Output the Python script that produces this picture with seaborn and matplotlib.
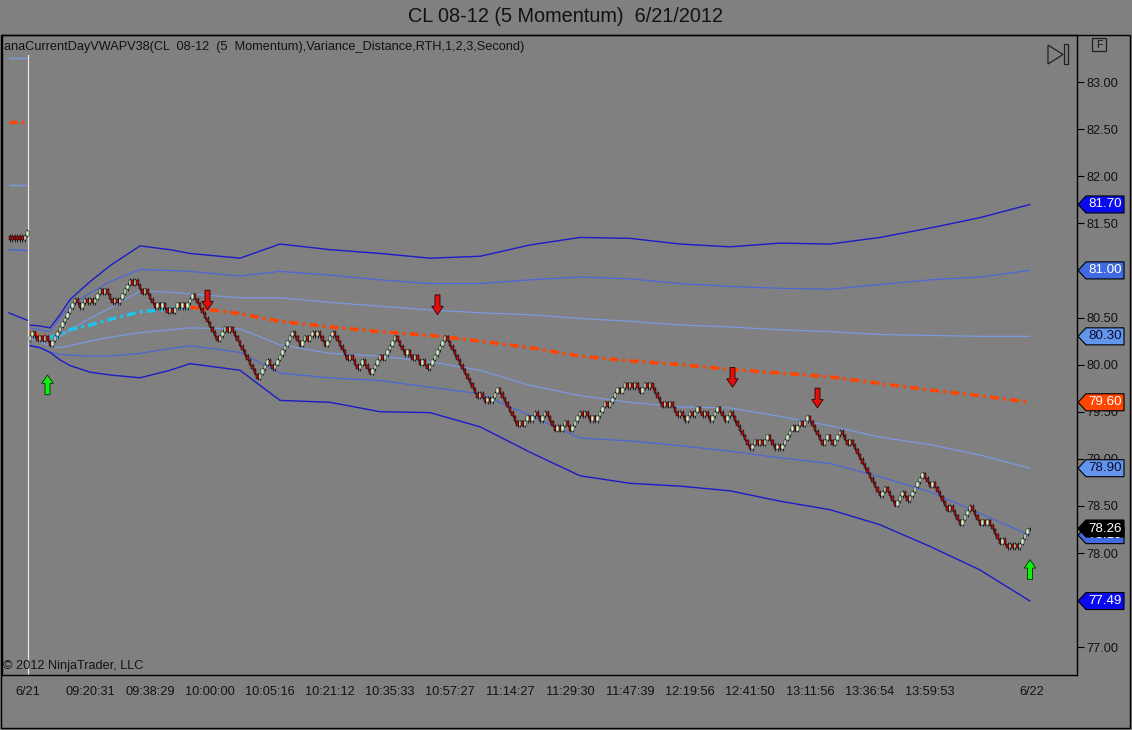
import numpy as np
import pandas as pd
import matplotlib
matplotlib.use("Agg")
import matplotlib.pyplot as plt
import seaborn as sns
from matplotlib.patches import Polygon, Rectangle, FancyArrow

# ---------------- data ----------------
title = "CL 08-12 (5 Momentum)  6/21/2012"
indicator_label = "anaCurrentDayVWAPV38(CL  08-12  (5  Momentum),Variance_Distance,RTH,1,2,3,Second)"
copyright_text = "\u00a9 2012 NinjaTrader, LLC"

# momentum bar closes (bar index 0..400), session of 6/21
closes = [
    80.30, 80.35, 80.30, 80.25, 80.30, 80.25, 80.30, 80.25, 80.20, 80.25,
    80.30, 80.35, 80.40, 80.45, 80.50, 80.55, 80.60, 80.65, 80.70, 80.65,
    80.60, 80.65, 80.70, 80.65, 80.70, 80.65, 80.70, 80.75, 80.80, 80.75,
    80.80, 80.75, 80.70, 80.65, 80.70, 80.65, 80.70, 80.75, 80.80, 80.85,
    80.90, 80.85, 80.90, 80.85, 80.80, 80.75, 80.80, 80.75, 80.70, 80.65,
    80.60, 80.65, 80.60, 80.65, 80.60, 80.55, 80.60, 80.55, 80.60, 80.65,
    80.60, 80.65, 80.60, 80.65, 80.70, 80.75, 80.70, 80.65, 80.60, 80.55,
    80.50, 80.45, 80.40, 80.35, 80.30, 80.25, 80.30, 80.35, 80.40, 80.35,
    80.40, 80.35, 80.30, 80.25, 80.20, 80.15, 80.10, 80.05, 80.00, 79.95,
    79.90, 79.85, 79.90, 79.95, 80.00, 80.05, 80.00, 79.95, 80.00, 80.05,
    80.10, 80.15, 80.20, 80.25, 80.30, 80.35, 80.30, 80.25, 80.20, 80.25,
    80.30, 80.25, 80.30, 80.35, 80.30, 80.35, 80.30, 80.25, 80.20, 80.25,
    80.30, 80.35, 80.30, 80.25, 80.20, 80.15, 80.10, 80.05, 80.10, 80.05,
    80.00, 79.95, 80.00, 80.05, 80.00, 79.95, 79.90, 79.95, 80.00, 80.05,
    80.10, 80.05, 80.10, 80.15, 80.20, 80.25, 80.30, 80.25, 80.20, 80.15,
    80.10, 80.15, 80.10, 80.05, 80.10, 80.05, 80.00, 80.05, 80.00, 79.95,
    80.00, 80.05, 80.10, 80.15, 80.20, 80.25, 80.30, 80.25, 80.20, 80.15,
    80.10, 80.05, 80.00, 79.95, 79.90, 79.85, 79.80, 79.75, 79.70, 79.65,
    79.70, 79.65, 79.60, 79.65, 79.60, 79.65, 79.70, 79.75, 79.70, 79.65,
    79.60, 79.55, 79.50, 79.45, 79.40, 79.35, 79.40, 79.35, 79.40, 79.45,
    79.40, 79.45, 79.50, 79.45, 79.40, 79.45, 79.50, 79.45, 79.40, 79.35,
    79.30, 79.35, 79.30, 79.35, 79.40, 79.35, 79.30, 79.35, 79.40, 79.45,
    79.50, 79.45, 79.50, 79.45, 79.40, 79.45, 79.40, 79.45, 79.50, 79.55,
    79.60, 79.55, 79.60, 79.65, 79.70, 79.75, 79.70, 79.75, 79.80, 79.75,
    79.80, 79.75, 79.80, 79.75, 79.70, 79.75, 79.80, 79.75, 79.80, 79.75,
    79.70, 79.65, 79.60, 79.55, 79.60, 79.55, 79.60, 79.55, 79.50, 79.45,
    79.50, 79.45, 79.40, 79.45, 79.50, 79.45, 79.50, 79.55, 79.50, 79.45,
    79.50, 79.45, 79.40, 79.45, 79.50, 79.55, 79.50, 79.45, 79.40, 79.45,
    79.50, 79.45, 79.40, 79.35, 79.30, 79.25, 79.20, 79.15, 79.10, 79.15,
    79.20, 79.15, 79.20, 79.15, 79.20, 79.25, 79.20, 79.15, 79.10, 79.15,
    79.10, 79.15, 79.20, 79.25, 79.30, 79.35, 79.30, 79.35, 79.40, 79.35,
    79.40, 79.45, 79.40, 79.35, 79.30, 79.25, 79.20, 79.15, 79.20, 79.25,
    79.20, 79.15, 79.20, 79.25, 79.30, 79.25, 79.20, 79.15, 79.20, 79.15,
    79.10, 79.05, 79.00, 78.95, 78.90, 78.85, 78.80, 78.75, 78.70, 78.65,
    78.60, 78.65, 78.70, 78.65, 78.60, 78.55, 78.50, 78.55, 78.60, 78.65,
    78.60, 78.55, 78.60, 78.65, 78.70, 78.75, 78.80, 78.85, 78.80, 78.75,
    78.70, 78.75, 78.70, 78.65, 78.60, 78.55, 78.50, 78.45, 78.50, 78.45,
    78.40, 78.35, 78.30, 78.35, 78.40, 78.45, 78.50, 78.45, 78.40, 78.35,
    78.30, 78.35, 78.30, 78.35, 78.30, 78.25, 78.20, 78.15, 78.10, 78.15,
    78.10, 78.05, 78.10, 78.05, 78.10, 78.05, 78.10, 78.15, 78.20, 78.25,
    78.26,
]
first_open = 80.25

# previous session bars (6/20)
prev_idx = [-8, -7, -6, -5, -4, -3, -2, -1]
prev_open = [81.37, 81.37, 81.37, 81.37, 81.37, 81.37, 81.32, 81.37]
prev_close = [81.32, 81.32, 81.32, 81.32, 81.32, 81.32, 81.37, 81.42]

# VWAP and variance bands, sampled at bar indices
band_idx = [0, 4, 8, 12, 16, 24, 32, 44, 56, 64, 84, 100, 120, 140, 160,
            180, 200, 220, 240, 260, 280, 300, 320, 340, 360, 380, 400]
sd3_up = [80.42, 80.41, 80.39, 80.53, 80.69, 80.88, 81.05, 81.26, 81.22, 81.18,
          81.13, 81.28, 81.22, 81.18, 81.13, 81.15, 81.27, 81.35, 81.34, 81.28,
          81.25, 81.29, 81.28, 81.35, 81.45, 81.56, 81.70]
sd2_up = [80.39, 80.37, 80.35, 80.49, 80.63, 80.76, 80.88, 81.01, 81.00, 80.99,
          80.94, 80.99, 80.95, 80.90, 80.86, 80.86, 80.90, 80.93, 80.91, 80.86,
          80.83, 80.81, 80.80, 80.85, 80.90, 80.93, 81.00]
sd1_up = [80.31, 80.28, 80.25, 80.30, 80.37, 80.49, 80.60, 80.78, 80.77, 80.75,
          80.71, 80.71, 80.66, 80.62, 80.58, 80.55, 80.53, 80.49, 80.46, 80.42,
          80.40, 80.37, 80.35, 80.32, 80.31, 80.30, 80.30]
vwap = [80.34, 80.31, 80.29, 80.31, 80.37, 80.42, 80.48, 80.56, 80.59, 80.61,
        80.54, 80.46, 80.40, 80.35, 80.31, 80.25, 80.18, 80.09, 80.04, 80.00,
        79.95, 79.91, 79.87, 79.80, 79.73, 79.67, 79.60]
sd1_dn = [80.28, 80.24, 80.20, 80.18, 80.20, 80.25, 80.29, 80.34, 80.37, 80.39,
          80.38, 80.21, 80.12, 80.09, 80.03, 79.94, 79.78, 79.67, 79.60, 79.55,
          79.54, 79.45, 79.35, 79.23, 79.15, 79.04, 78.90]
sd2_dn = [80.21, 80.18, 80.13, 80.11, 80.10, 80.09, 80.09, 80.12, 80.17, 80.20,
          80.13, 79.91, 79.86, 79.83, 79.76, 79.69, 79.46, 79.22, 79.19, 79.14,
          79.08, 79.01, 78.95, 78.81, 78.65, 78.42, 78.19]
sd3_dn = [80.20, 80.18, 80.13, 80.05, 79.99, 79.92, 79.89, 79.86, 79.94, 80.01,
          79.94, 79.62, 79.60, 79.50, 79.49, 79.34, 79.07, 78.82, 78.74, 78.71,
          78.66, 78.55, 78.46, 78.30, 78.07, 77.82, 77.49]

# previous session band levels
prev_band_idx = [-8.5, -1.0]
prev_sd1_up = [83.25, 83.25]
prev_vwap = [82.58, 82.58]
prev_sd1_dn = [81.91, 81.91]
prev_sd2_dn = [81.22, 81.21]
prev_sd3_dn = [80.55, 80.47]

# signal arrows (bar index, arrow tip price)
sell_idx = [71, 163, 281, 315]
sell_tip = [80.58, 80.53, 79.76, 79.54]
buy_idx = [7, 400]
buy_tip = [79.89, 77.93]

# axes
session_break = -0.8
x_tick_pos = [-8.8, -0.8, 24, 48, 72, 96, 120, 144, 168, 192, 216, 240, 264,
              288, 312, 336, 360, 384, 400.8]
x_tick_labels = ["", "6/21", "09:20:31", "09:38:29", "10:00:00", "10:05:16",
                 "10:21:12", "10:35:33", "10:57:27", "11:14:27", "11:29:30",
                 "11:47:39", "12:19:56", "12:41:50", "13:11:56", "13:36:54",
                 "13:59:53", "", "6/22"]
y_ticks = [77.0, 77.5, 78.0, 78.5, 79.0, 79.5, 80.0, 80.5, 81.0, 81.5,
           82.0, 82.5, 83.0]
x_limits = (-11.2, 418.8)
y_limits = (76.705, 83.499)

# ---------------- style ----------------
BG = "#808080"
C_SD3 = "#1c1cc8"
C_SD2 = "#4a66dc"
C_SD1 = "#7a9ae6"
C_VW_DN = "#ff4500"
C_VW_UP = "#1cc4f0"
C_UP = "#d4f7cf"
C_DN = "#a01212"
TXT = "#121212"

sns.set_style("white")
plt.rcParams["font.family"] = ["Liberation Sans", "DejaVu Sans"]

W, H = 1132, 730
fig = plt.figure(figsize=(W / 100, H / 100), dpi=100, facecolor=BG)
ax_l, ax_r, ax_t, ax_b = 2, 1077, 35, 675
ax = fig.add_axes([ax_l / W, 1 - ax_b / H, (ax_r - ax_l) / W, (ax_b - ax_t) / H])
ax.set_facecolor(BG)
ax.set_xlim(*x_limits)
ax.set_ylim(*y_limits)

# session separator
ax.axvline(session_break, ymin=0, ymax=0.969, color="#e6e6e6", lw=0.9, zorder=1)

# previous session bands
for vals, col in [(prev_sd1_up, C_SD1), (prev_sd1_dn, C_SD1),
                  (prev_sd2_dn, C_SD2), (prev_sd3_dn, C_SD3)]:
    sns.lineplot(x=prev_band_idx, y=vals, ax=ax, color=col, lw=1.0, zorder=2)
sns.lineplot(x=prev_band_idx, y=prev_vwap, ax=ax, color=C_VW_DN, lw=2.3,
             linestyle=(0, (2.6, 1.2, 0.8, 1.2)), zorder=2)

# variance bands
for vals, col, lw in [(sd3_up, C_SD3, 1.0), (sd2_up, C_SD2, 0.85),
                      (sd1_up, C_SD1, 0.85), (sd1_dn, C_SD1, 0.85),
                      (sd2_dn, C_SD2, 0.85), (sd3_dn, C_SD3, 1.0)]:
    sns.lineplot(x=band_idx, y=vals, ax=ax, color=col, lw=lw, zorder=2)

# VWAP coloured by slope
vw = pd.DataFrame({"idx": band_idx, "v": vwap})
slope_up = np.diff(vw["v"].values) > 0
start = 0
for k in range(1, len(slope_up) + 1):
    if k == len(slope_up) or slope_up[k] != slope_up[start]:
        seg = vw.iloc[start:k + 1]
        sns.lineplot(x=seg["idx"].values, y=seg["v"].values, ax=ax,
                     color=C_VW_UP if slope_up[start] else C_VW_DN, lw=2.5,
                     linestyle=(0, (2.6, 1.2, 0.8, 1.2)), zorder=2.5)
        start = k

# momentum bars
bars = pd.DataFrame({"idx": np.arange(len(closes)), "close": closes})
bars["open"] = bars["close"].shift(1).fillna(first_open)
prev = pd.DataFrame({"idx": prev_idx, "open": prev_open, "close": prev_close})
allbars = pd.concat([prev, bars], ignore_index=True)
lo = allbars[["open", "close"]].min(axis=1)
hi = allbars[["open", "close"]].max(axis=1)
up = allbars["close"] >= allbars["open"]
wick = 0.015
ax.vlines(allbars["idx"], lo - wick, hi + wick, color="black", lw=0.5, zorder=3)
ax.bar(allbars["idx"], hi - lo, bottom=lo, width=0.92,
       color=np.where(up, C_UP, C_DN), edgecolor="black", linewidth=0.3, zorder=4)

# signal arrows
alen, hlen = 0.21, 0.09
for i, p in zip(sell_idx, sell_tip):
    ax.add_patch(FancyArrow(i, p + alen, 0, -alen, width=2.0, head_width=4.6,
                            head_length=hlen, length_includes_head=True,
                            fc="#e01010", ec="#300000", lw=0.6, zorder=6))
for i, p in zip(buy_idx, buy_tip):
    ax.add_patch(FancyArrow(i, p - alen, 0, alen, width=2.0, head_width=4.6,
                            head_length=hlen, length_includes_head=True,
                            fc="#10f010", ec="#003000", lw=0.6, zorder=6))

# price tags on the axis (values taken from the series ends)
tags = [(sd3_up[-1], "#0a0af0", "white"), (sd2_up[-1], "#4169e1", "white"),
        (sd1_up[-1], "#6495ed", "#0a0a30"), (vwap[-1], "#ff4500", "white"),
        (sd1_dn[-1], "#6495ed", "#0a0a30"), (sd2_dn[-1], "#4169e1", "white"),
        (closes[-1], "#000000", "white"), (sd3_dn[-1], "#0a0af0", "white")]

# axes styling
for sp in ax.spines.values():
    sp.set_color("black")
    sp.set_linewidth(1.0)
ax.yaxis.tick_right()
ax.set_yticks(y_ticks)
tag_px = 17 / 94.2 / 2 + 0.03
ytl = []
for v in y_ticks:
    hidden = any(abs(v - t[0]) < 0.06 for t in tags)
    ytl.append("" if hidden else f"{v:.2f}")
ax.set_yticklabels(ytl)
ax.set_xticks(x_tick_pos)
ax.set_xticklabels(x_tick_labels)
ax.tick_params(axis="y", direction="out", length=5, width=0.8, colors="black",
               labelcolor=TXT, labelsize=9.2, pad=1.5, left=False, right=True)
ax.tick_params(axis="x", direction="out", length=6, width=0.8, colors="black",
               labelcolor=TXT, labelsize=9.2, pad=2)
ax.set_xlabel("")
ax.set_ylabel("")
ax.grid(False)

# outer frame
fig.add_artist(Rectangle((1 / W, 1 - 728 / H), 1129 / W, (728 - 35) / H,
                         transform=fig.transFigure, fill=False, ec="black", lw=1.0))

# texts
fig.text(565 / W, 1 - 17 / H, title, ha="center", va="center", fontsize=14.3, color=TXT)
fig.text(4 / W, 1 - 47 / H, indicator_label, ha="left", va="center", fontsize=9.2, color=TXT)
fig.text(3 / W, 1 - 666 / H, copyright_text, ha="left", va="center", fontsize=9.2, color=TXT)

# top-right icons
fig.add_artist(Polygon([(1048 / W, 1 - 45 / H), (1048 / W, 1 - 64 / H), (1063 / W, 1 - 54.5 / H)],
                       closed=True, transform=fig.transFigure, fill=False, ec="#202020", lw=0.9))
fig.add_artist(Rectangle((1064 / W, 1 - 64 / H), 4 / W, 20 / H, transform=fig.transFigure,
                         fill=False, ec="#202020", lw=0.9))
fig.add_artist(Rectangle((1092 / W, 1 - 51 / H), 14 / W, 13 / H, transform=fig.transFigure,
                         fill=False, ec="#202020", lw=0.9))
fig.text(1099 / W, 1 - 44.5 / H, "F", ha="center", va="center", fontsize=7.5, color=TXT)


def tag_y(price):
    return H - ax.transData.transform((0, price))[1]


def price_tag(price, bg, fg, clip_above=None):
    yp = tag_y(price)
    pts = [(1078, yp), (1086, yp - 8.5), (1124, yp - 8.5), (1124, yp + 8.5), (1086, yp + 8.5)]
    fig.add_artist(Polygon([(x / W, 1 - y / H) for x, y in pts], closed=True,
                           transform=fig.transFigure, fc=bg, ec="black", lw=0.8))
    t = fig.text(1105 / W, 1 - yp / H, f"{price:.2f}", ha="center", va="center",
                 fontsize=9.6, color=fg)
    if clip_above is not None:
        # only the part below the covering tag stays visible
        clip = Rectangle((1078 / W, 1 - (yp + 9) / H), 50 / W, (yp + 9 - clip_above) / H,
                         transform=fig.transFigure, visible=False)
        fig.add_artist(clip)
        t.set_clip_path(clip)


last_y = tag_y(closes[-1])
for price, bg, fg in tags:
    if price == closes[-1]:
        continue
    overlap = abs(tag_y(price) - last_y) < 17
    price_tag(price, bg, fg, clip_above=(last_y + 8.5) if overlap else None)
price_tag(closes[-1], "#000000", "white")

fig.savefig("out.png", dpi=100, facecolor=BG)
